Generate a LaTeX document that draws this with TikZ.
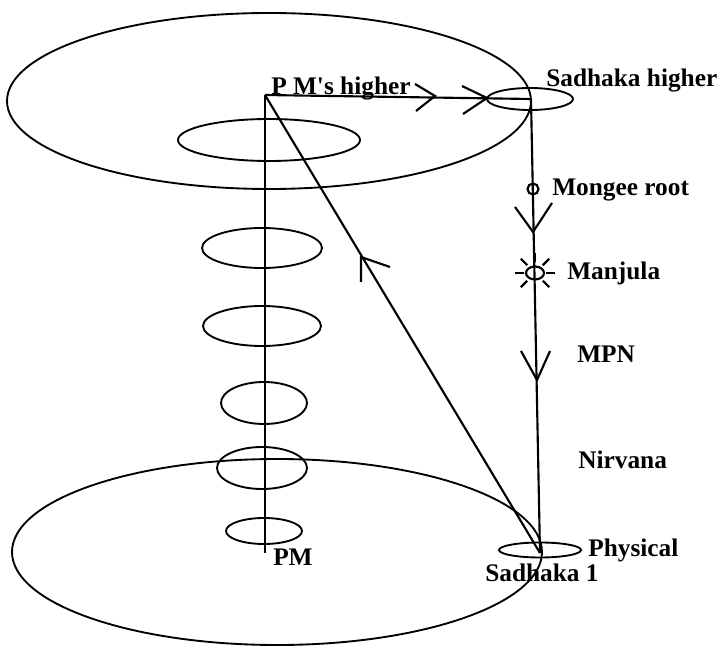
\documentclass[tikz,border=0pt]{standalone}
\usepackage{fontspec}
\setmainfont{Liberation Serif}
\usepackage{tikz}
\usetikzlibrary{calc}

\tikzset{
  lbl/.style={anchor=base west,inner sep=0pt,font=\fontsize{19}{22}\selectfont\bfseries},
  ring/.style={line width=1.4pt},
  axis/.style={line width=2pt},
  chev/.style={line width=1.6pt}
}

\begin{document}
\begin{tikzpicture}[x=0.75pt,y=-0.75pt]
   \useasboundingbox (0,0) rectangle (721,648);

   \coordinate (pmh) at (265,95);
   \coordinate (pm) at (265,553);
   \coordinate (sh) at (531,99);
   \coordinate (s1) at (540,553);

   \draw[ring] (269,101) ellipse [x radius=262,y radius=88];
   \draw[ring] (277,552) ellipse [x radius=265,y radius=93];

   \draw[ring] (269,140) ellipse [x radius=91,y radius=21];
   \draw[ring] (262,248) ellipse [x radius=60,y radius=20];
   \draw[ring] (262,326) ellipse [x radius=59,y radius=20];
   \draw[ring] (264,403) ellipse [x radius=43,y radius=21];
   \draw[ring] (262,468) ellipse [x radius=45,y radius=21];
   \draw[ring] (264,531) ellipse [x radius=38,y radius=13];

   \draw[ring] (530,99) ellipse [x radius=43,y radius=11];
   \draw[ring] (540,550) ellipse [x radius=41,y radius=7.5];

   \draw[axis] (pmh) -- (pm);
   \draw[chev] (pmh) -- (sh);
   \draw[chev] (sh) -- (s1);
   \draw[chev] (s1) -- (pmh);

   \coordinate (a1) at (435,96);
   \coordinate (a2) at (487,98);
   \coordinate (a3) at (533,232);
   \coordinate (a4) at (537,380);
   \coordinate (a5) at (361,257);
   \draw[chev] ($(a1)+(-20,-12)$) -- (a1) -- ($(a1)+(-19,15)$);
   \draw[chev] ($(a2)+(-25,-12)$) -- (a2) -- ($(a2)+(-24,16)$);
   \draw[chev] ($(a3)+(-18,-25)$) -- (a3) -- ($(a3)+(19,-29)$);
   \draw[chev] ($(a4)+(-16,-29)$) -- (a4) -- ($(a4)+(13,-29)$);
   \draw[chev] ($(a5)+(0,25)$) -- (a5) -- ($(a5)+(29,10)$);

   \coordinate (mroot) at (533,189);
   \draw[chev] (mroot) circle [radius=5.5];

   \coordinate (sun) at (535,273);
   \draw[chev] (sun) ellipse [x radius=9,y radius=6.5];
   \foreach \ang in {0,45,...,315}
     \draw[chev] ($(sun)+(\ang:11)$) -- ($(sun)+(\ang:20)$);

   \node[lbl] (pmhtext) at (271,95) {P M\textquotesingle s higher};
   \node[lbl] (shtext) at (546,87) {Sadhaka higher};
   \node[lbl] (mongee) at (552,196) {Mongee root};
   \node[lbl] (manjula) at (567,280) {Manjula};
   \node[lbl] (mpn) at (577,363) {MPN};
   \node[lbl] (nirvana) at (578,468) {Nirvana};
   \node[lbl] (pmtext) at (273,565) {PM};
   \node[lbl] (physical) at (588,556) {Physical};
   \node[lbl] (s1text) at (485,581) {Sadhaka 1};
\end{tikzpicture}
\end{document}
